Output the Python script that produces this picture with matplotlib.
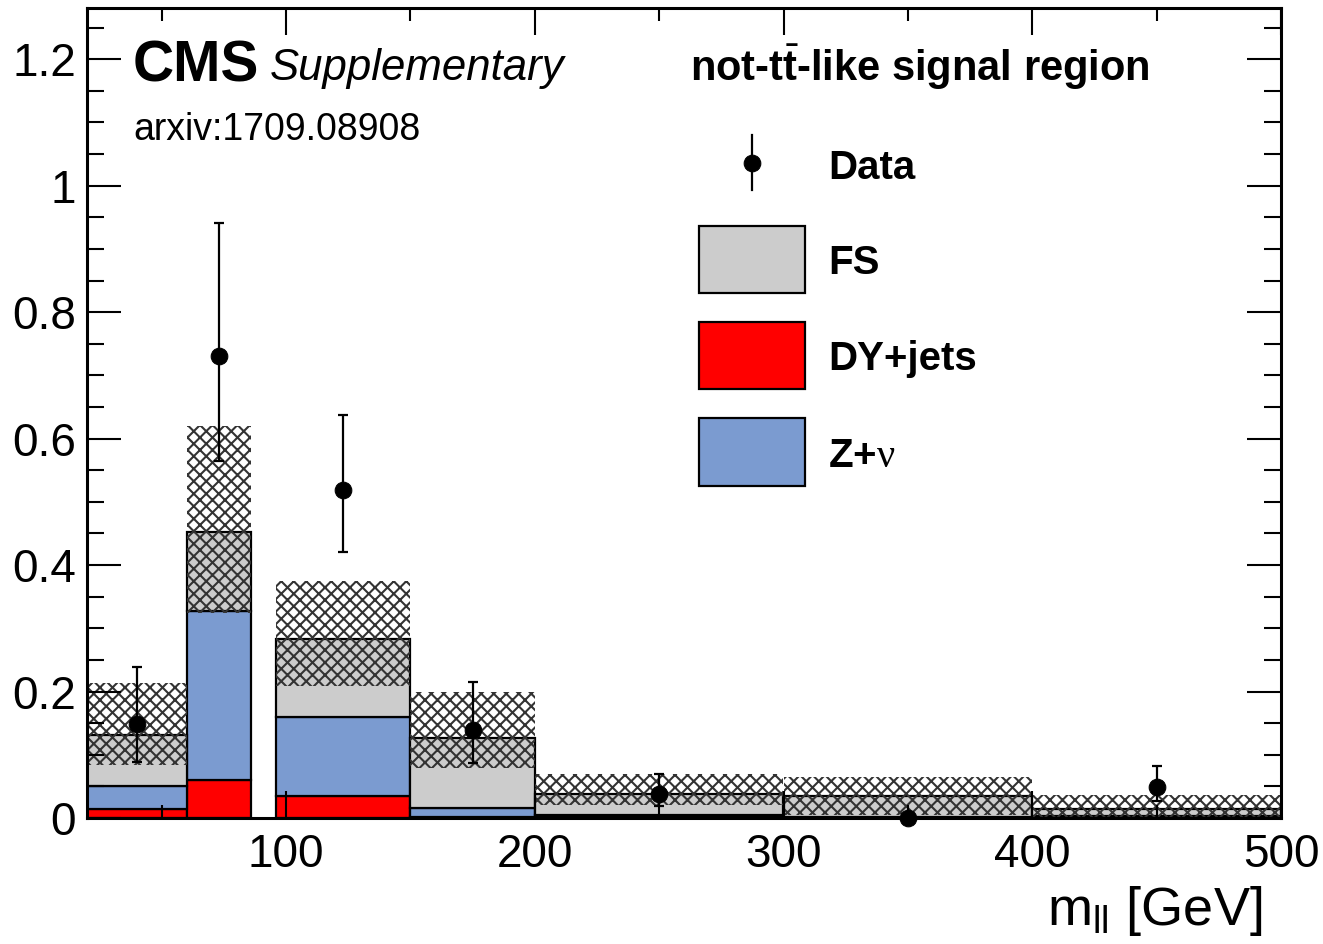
import numpy as np
import matplotlib
matplotlib.use("Agg")
import matplotlib.pyplot as plt
from matplotlib.patches import Rectangle
from matplotlib.lines import Line2D
from matplotlib.ticker import MultipleLocator, FuncFormatter

DPI = 75
S = 100.0 / DPI  # sizes below are given as if dpi were 100

plt.rcParams['font.family'] = ['Liberation Sans', 'DejaVu Sans']
plt.rcParams['mathtext.fontset'] = 'custom'
plt.rcParams['mathtext.rm'] = 'Liberation Sans'
plt.rcParams['mathtext.bf'] = 'Liberation Sans:bold'
plt.rcParams['mathtext.it'] = 'Liberation Sans:italic'
plt.rcParams['mathtext.sf'] = 'Liberation Serif'
plt.rcParams['hatch.linewidth'] = 1.5 * S

# ---- data (m_ll bins in GeV) ----
bin_edges = [20, 60, 86, 96, 150, 200, 300, 400, 500]
dy_jets = [0.014, 0.060, 0.0, 0.035, 0.002, 0.001, 0.0005, 0.001]
z_nu    = [0.036, 0.2675, 0.0, 0.125, 0.014, 0.003, 0.001, 0.002]
fs      = [0.082, 0.1255, 0.0, 0.123, 0.110, 0.0335, 0.033, 0.012]
unc_low  = [0.084, 0.324, 0.0, 0.208, 0.079, 0.021, 0.004, 0.0]
unc_high = [0.213, 0.620, 0.0, 0.375, 0.199, 0.069, 0.065, 0.037]
data_val = [0.149, 0.731, np.nan, 0.519, 0.139, 0.038, 0.0, 0.0496]
data_up  = [0.090, 0.210, 0.0, 0.118, 0.076, 0.032, 0.0, 0.032]
data_dn  = [0.060, 0.166, 0.0, 0.098, 0.0525, 0.0185, 0.0, 0.0226]

c_fs = '#cccccc'
c_dy = '#ff0000'
c_zn = '#7b9bd0'
c_hatch = '#333333'

edges = np.array(bin_edges, dtype=float)
left = edges[:-1]
width = np.diff(edges)
centers = left + width / 2

fig = plt.figure(figsize=(1323 / DPI, 944 / DPI), dpi=DPI)
ax = fig.add_axes([87/1323, 126/944, 1194/1323, 810/944])

dy = np.array(dy_jets); zn = np.array(z_nu); f = np.array(fs)
lo = np.array(unc_low); hi = np.array(unc_high)
m = (dy + zn + f) > 0

lw = 1.6 * S
ax.bar(left[m], dy[m], width=width[m], align='edge', color=c_dy,
       edgecolor='black', linewidth=lw, zorder=1)
ax.bar(left[m], zn[m], width=width[m], bottom=dy[m], align='edge', color=c_zn,
       edgecolor='black', linewidth=lw, zorder=1)
ax.bar(left[m], f[m], width=width[m], bottom=(dy + zn)[m], align='edge', color=c_fs,
       edgecolor='black', linewidth=lw, zorder=1)
ax.bar(left[m], (hi - lo)[m], width=width[m], bottom=lo[m], align='edge',
       facecolor='none', edgecolor=c_hatch, hatch='xx', linewidth=0, zorder=1.5)

dv = np.array(data_val)
up = np.array(data_up); dn = np.array(data_dn)
md = ~np.isnan(dv)
me = md & ((up + dn) > 0)
ax.errorbar(centers[me], dv[me], yerr=[dn[me], up[me]],
            fmt='o', color='black', ms=12 * S, elinewidth=1.6 * S, capsize=3.5 * S,
            capthick=1.6 * S, zorder=3)
m0 = md & ~me
ax.plot(centers[m0], dv[m0], 'o', color='black', ms=12 * S, zorder=3, clip_on=False)

ax.set_xlim(20, 500)
ax.set_ylim(0, 1.281)

ax.xaxis.set_major_locator(MultipleLocator(100))
ax.xaxis.set_minor_locator(MultipleLocator(50))
ax.yaxis.set_major_locator(MultipleLocator(0.2))
ax.yaxis.set_minor_locator(MultipleLocator(0.05))
ax.yaxis.set_major_formatter(FuncFormatter(lambda v, p: '%g' % round(v, 3)))
ax.xaxis.set_major_formatter(FuncFormatter(lambda v, p: '%g' % v if v > 50 else ''))

ax.tick_params(axis='both', which='both', direction='in', top=True, right=True,
               width=1.5 * S, colors='black', labelsize=33 * S)
ax.tick_params(axis='x', which='major', length=19.5 * S, pad=11 * S)
ax.tick_params(axis='x', which='minor', length=9.5 * S)
ax.tick_params(axis='y', which='major', length=24.5 * S, pad=8 * S)
ax.tick_params(axis='y', which='minor', length=12.2 * S)
for s in ax.spines.values():
    s.set_linewidth(2.2 * S)

# x-axis title
fig.text(1262/1323, 1 - 925/944, r'm$_{\mathrm{ll}}$ [GeV]', ha='right', va='baseline',
         fontsize=39 * S)

def axf(px, py):
    return ((px - 87) / 1194, (818 - py) / 810)

# CMS labels
ax.text(*axf(133, 81), 'CMS', fontsize=41 * S, fontweight='bold', ha='left', va='baseline',
        transform=ax.transAxes)
ax.text(*axf(270, 80), 'Supplementary', fontsize=31.5 * S, fontstyle='italic', ha='left',
        va='baseline', transform=ax.transAxes)
ax.text(*axf(133, 140), 'arxiv:1709.08908', fontsize=27 * S, ha='left', va='baseline',
        transform=ax.transAxes)
ax.text(*axf(690, 81), r'not-t$\bar{\mathbf{t}}$-like signal region', fontsize=30 * S,
        fontweight='bold', ha='left', va='baseline', transform=ax.transAxes)

# legend (drawn manually, ROOT style)
bx0, bx1 = 699, 805
tx = 828
x0, y0 = axf(752, 163)
_, yt = axf(752, 135)
_, yb = axf(752, 190)
ax.add_line(Line2D([x0, x0], [yb, yt], color='black', lw=1.6 * S, transform=ax.transAxes,
                   clip_on=False))
ax.add_line(Line2D([x0], [y0], marker='o', ms=12 * S, color='black', transform=ax.transAxes,
                   clip_on=False))
ax.text(*axf(tx, 179), 'Data', fontsize=29 * S, fontweight='bold', ha='left', va='baseline',
        transform=ax.transAxes)

entries = [('FS', c_fs, 226, 293), ('DY+jets', c_dy, 322, 389),
           (r'Z+$\mathsf{\nu}$', c_zn, 418, 486)]
for lab, col, ytop, ybot in entries:
    xa, ya = axf(bx0, ybot)
    xb, yb2 = axf(bx1, ytop)
    ax.add_patch(Rectangle((xa, ya), xb - xa, yb2 - ya, transform=ax.transAxes,
                           facecolor=col, edgecolor='black', linewidth=1.6 * S,
                           clip_on=False, zorder=4))
    ax.text(*axf(tx, (ytop + ybot) / 2 + 15), lab, fontsize=29 * S, fontweight='bold',
            ha='left', va='baseline', transform=ax.transAxes)

fig.savefig('out.png', dpi=DPI)
